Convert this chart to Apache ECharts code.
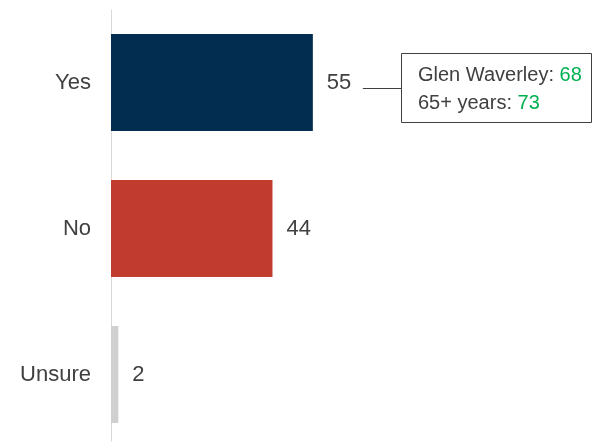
<!DOCTYPE html>
<html><head><meta charset="utf-8">
<script src="https://cdn.jsdelivr.net/npm/echarts@6/dist/echarts.min.js"></script>
<style>html,body{margin:0;padding:0;background:#fff}#c{width:592px;height:442px}</style>
</head><body><div id="c"></div>
<script>
const categories = ['Yes', 'No', 'Unsure'];
const values = [55, 44, 2];
const barColors = ['#022d50', '#c13b2e', '#d0d0d0'];
const noteLines = [['Glen Waverley: ', '68'], ['65+ years: ', '73']];

const chart = echarts.init(document.getElementById('c'), null, {renderer: 'canvas'});
const font = '"Liberation Sans", Arial, sans-serif';
chart.setOption({
  animation: false,
  grid: [
    {left: 111, width: 367, top: 9.5, height: 438, outerBoundsMode: 'none', containLabel: false},
    {left: 111, width: 367, top: 10, height: 431, outerBoundsMode: 'none', containLabel: false}
  ],
  xAxis: [
    {type: 'value', min: 0, max: 100, show: false, gridIndex: 0},
    {type: 'value', min: 0, max: 100, show: false, gridIndex: 1}
  ],
  yAxis: [
    {
      type: 'category', inverse: true, data: categories, gridIndex: 0,
      axisLine: {show: false}, axisTick: {show: false}, splitLine: {show: false},
      axisLabel: {margin: 20, fontSize: 22, color: '#404040', fontFamily: font}
    },
    {
      type: 'value', min: 0, max: 1, gridIndex: 1,
      axisLine: {show: true, lineStyle: {color: '#d9d9d9', width: 1}},
      axisTick: {show: false}, splitLine: {show: false}, axisLabel: {show: false}
    }
  ],
  series: [{
    type: 'bar', barWidth: 97, xAxisIndex: 0, yAxisIndex: 0,
    data: values.map((v, i) => ({value: v, itemStyle: {color: barColors[i]}})),
    label: {show: true, position: 'right', distance: 14, fontSize: 22, color: '#404040', fontFamily: font}
  }]
});

const p = chart.convertToPixel({xAxisIndex: 0, yAxisIndex: 0}, [values[0], categories[0]]);
const lx = p[0] + 50, ly = Math.round(p[1] + 5.5) + 0.5;
const bx = 401, by = ly - 35.5;
chart.setOption({
  graphic: [
    {type: 'line', shape: {x1: lx, y1: ly, x2: bx, y2: ly}, style: {stroke: '#404040', lineWidth: 1}},
    {type: 'rect', shape: {x: bx + 0.5, y: by + 0.5, width: 190, height: 69}, style: {fill: '#fff', stroke: '#404040', lineWidth: 1}},
    {type: 'text', x: bx + 17, y: by + 8, style: {
      text: noteLines.map(l => l[0] + '{g|' + l[1] + '}').join('\n'),
      font: '20px ' + font, fill: '#404040', lineHeight: 28,
      rich: {g: {fill: '#00b050', fontSize: 20, fontFamily: font, lineHeight: 28}}
    }}
  ]
});
</script></body></html>
